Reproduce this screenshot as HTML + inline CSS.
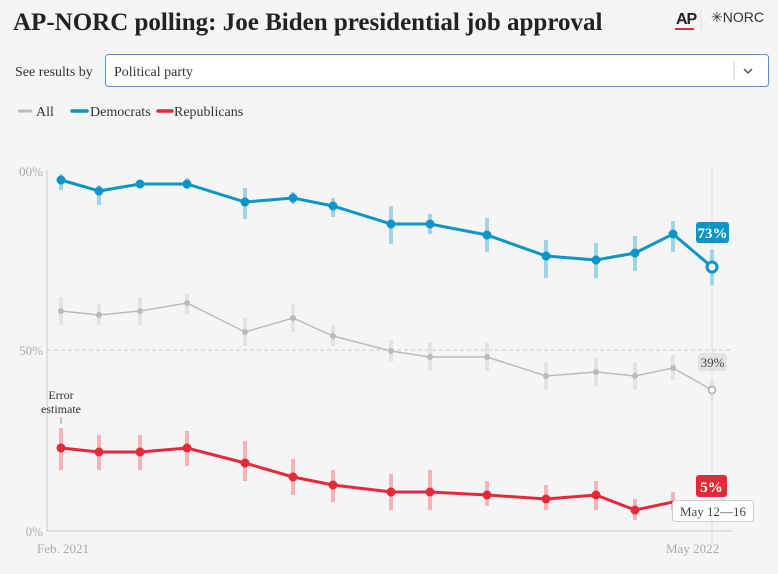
<!DOCTYPE html>
<html><head><meta charset="utf-8"><style>
body{margin:0;width:778px;height:569px;background:#f5f5f5;overflow:hidden;font-family:"Liberation Serif",serif;}
</style></head><body>
<svg width="778" height="569" viewBox="0 0 778 569" xmlns="http://www.w3.org/2000/svg" font-family="Liberation Serif, serif">
<rect width="778" height="569" fill="#f5f5f5"/>
<text x="13" y="30" font-size="25" font-weight="bold" fill="#222">AP-NORC polling: Joe Biden presidential job approval</text>
<text x="676" y="24" font-size="16" font-weight="bold" fill="#222" font-family="Liberation Sans, sans-serif" letter-spacing="-1">AP</text>
<rect x="675" y="28" width="19" height="2" fill="#e4293a"/>
<line x1="701" y1="10" x2="701" y2="30" stroke="#ddd"/>
<text x="711" y="22" font-size="14" fill="#333" font-family="Liberation Sans, sans-serif">✳NORC</text>
<text x="15" y="76" font-size="14" fill="#333">See results by</text>
<rect x="105.5" y="54.5" width="663" height="32" rx="3" fill="#fff" stroke="#5a8fd8"/>
<text x="114" y="76" font-size="14" fill="#333">Political party</text>
<line x1="734" y1="61" x2="734" y2="80" stroke="#ccc"/>
<polyline points="744,69 748,73 752,69" fill="none" stroke="#555" stroke-width="1.5"/>
<line x1="18" y1="111" x2="32" y2="111" stroke="#bbb" stroke-width="3"/>
<text x="36" y="116" font-size="14" fill="#333">All</text>
<line x1="72" y1="111" x2="87" y2="111" stroke="#0b95c8" stroke-width="3.5" stroke-linecap="round"/>
<text x="90" y="116" font-size="14" fill="#333">Democrats</text>
<line x1="158" y1="111" x2="172" y2="111" stroke="#e4293a" stroke-width="3.5" stroke-linecap="round"/>
<text x="174" y="116" font-size="14" fill="#333">Republicans</text>
<!-- axes -->
<line x1="47" y1="170" x2="47" y2="531" stroke="#ccc"/>
<line x1="47" y1="531" x2="732" y2="531" stroke="#ccc"/>
<line x1="47" y1="350" x2="732" y2="350" stroke="#ccc" stroke-dasharray="4,3"/>
<line x1="712" y1="170" x2="712" y2="545" stroke="#ddd"/>
<text x="43" y="176" font-size="13" fill="#aaa" text-anchor="end">00%</text>
<text x="43" y="355" font-size="13" fill="#aaa" text-anchor="end">50%</text>
<text x="43" y="536" font-size="13" fill="#aaa" text-anchor="end">0%</text>
<text x="37" y="553" font-size="13" fill="#aaa">Feb. 2021</text>
<text x="666" y="553" font-size="13" fill="#aaa">May 2022</text>
<text x="61" y="399" font-size="12" fill="#333" text-anchor="middle">Error</text>
<text x="61" y="413" font-size="12" fill="#333" text-anchor="middle">estimate</text>
<line x1="61" y1="417" x2="61" y2="424" stroke="#999"/>
<g id="eb" stroke-width="4">
<g stroke="#9fd3e6">
<line x1="61" y1="174" x2="61" y2="190"/><line x1="99" y1="185" x2="99" y2="205"/><line x1="140" y1="180" x2="140" y2="188"/><line x1="187" y1="178" x2="187" y2="189"/><line x1="245" y1="188" x2="245" y2="219"/><line x1="293" y1="192" x2="293" y2="204"/><line x1="333" y1="198" x2="333" y2="217"/><line x1="391" y1="206" x2="391" y2="244"/><line x1="430" y1="214" x2="430" y2="234"/><line x1="487" y1="218" x2="487" y2="252"/><line x1="546" y1="240" x2="546" y2="278"/><line x1="596" y1="243" x2="596" y2="278"/><line x1="635" y1="236" x2="635" y2="271"/><line x1="673" y1="221" x2="673" y2="252"/><line x1="712" y1="250" x2="712" y2="285"/>
</g>
<g stroke="#e3e3e3">
<line x1="61" y1="297" x2="61" y2="325"/><line x1="99" y1="304" x2="99" y2="325"/><line x1="140" y1="297" x2="140" y2="325"/><line x1="187" y1="294" x2="187" y2="314"/><line x1="245" y1="318" x2="245" y2="346"/><line x1="293" y1="304" x2="293" y2="332"/><line x1="333" y1="325" x2="333" y2="346"/><line x1="391" y1="340" x2="391" y2="362"/><line x1="430" y1="343" x2="430" y2="371"/><line x1="487" y1="343" x2="487" y2="371"/><line x1="546" y1="362" x2="546" y2="390"/><line x1="596" y1="358" x2="596" y2="386"/><line x1="635" y1="362" x2="635" y2="390"/><line x1="673" y1="355" x2="673" y2="380"/><line x1="712" y1="380" x2="712" y2="400"/>
</g>
<g stroke="#f4b3b9">
<line x1="61" y1="428" x2="61" y2="470"/><line x1="99" y1="435" x2="99" y2="470"/><line x1="140" y1="435" x2="140" y2="470"/><line x1="187" y1="431" x2="187" y2="466"/><line x1="245" y1="441" x2="245" y2="481"/><line x1="293" y1="459" x2="293" y2="495"/><line x1="333" y1="470" x2="333" y2="502"/><line x1="391" y1="474" x2="391" y2="510"/><line x1="430" y1="470" x2="430" y2="510"/><line x1="487" y1="481" x2="487" y2="506"/><line x1="546" y1="485" x2="546" y2="510"/><line x1="596" y1="481" x2="596" y2="510"/><line x1="635" y1="499" x2="635" y2="520"/><line x1="673" y1="492" x2="673" y2="510"/>
</g>
</g>
<polyline fill="none" stroke="#bbb" stroke-width="1.5" points="61,311 99,315 140,311 187,303 245,332 293,318 333,336 391,351 430,357 487,357 546,376 596,372 635,376 673,368 712,390"/>
<g fill="#bbb"><circle cx="61" cy="311" r="3"/><circle cx="99" cy="315" r="3"/><circle cx="140" cy="311" r="3"/><circle cx="187" cy="303" r="3"/><circle cx="245" cy="332" r="3"/><circle cx="293" cy="318" r="3"/><circle cx="333" cy="336" r="3"/><circle cx="391" cy="351" r="3"/><circle cx="430" cy="357" r="3"/><circle cx="487" cy="357" r="3"/><circle cx="546" cy="376" r="3"/><circle cx="596" cy="372" r="3"/><circle cx="635" cy="376" r="3"/><circle cx="673" cy="368" r="3"/></g>
<circle cx="712" cy="390" r="3.5" fill="#fff" stroke="#aaa" stroke-width="1.5"/>
<polyline fill="none" stroke="#0b95c8" stroke-width="3" points="61,180 99,191 140,184 187,184 245,202 293,198 333,206 391,224 430,224 487,235 546,256 596,260 635,253 673,234 712,267"/>
<g fill="#0b95c8"><circle cx="61" cy="180" r="4.5"/><circle cx="99" cy="191" r="4.5"/><circle cx="140" cy="184" r="4.5"/><circle cx="187" cy="184" r="4.5"/><circle cx="245" cy="202" r="4.5"/><circle cx="293" cy="198" r="4.5"/><circle cx="333" cy="206" r="4.5"/><circle cx="391" cy="224" r="4.5"/><circle cx="430" cy="224" r="4.5"/><circle cx="487" cy="235" r="4.5"/><circle cx="546" cy="256" r="4.5"/><circle cx="596" cy="260" r="4.5"/><circle cx="635" cy="253" r="4.5"/><circle cx="673" cy="234" r="4.5"/></g>
<circle cx="712" cy="267" r="5" fill="#fff" stroke="#0b95c8" stroke-width="3"/>
<polyline fill="none" stroke="#e4293a" stroke-width="3" points="61,448 99,452 140,452 187,448 245,463 293,477 333,485 391,492 430,492 487,495 546,499 596,495 635,510 673,502 712,513"/>
<g fill="#e4293a"><circle cx="61" cy="448" r="4.5"/><circle cx="99" cy="452" r="4.5"/><circle cx="140" cy="452" r="4.5"/><circle cx="187" cy="448" r="4.5"/><circle cx="245" cy="463" r="4.5"/><circle cx="293" cy="477" r="4.5"/><circle cx="333" cy="485" r="4.5"/><circle cx="391" cy="492" r="4.5"/><circle cx="430" cy="492" r="4.5"/><circle cx="487" cy="495" r="4.5"/><circle cx="546" cy="499" r="4.5"/><circle cx="596" cy="495" r="4.5"/><circle cx="635" cy="510" r="4.5"/></g>
<rect x="696" y="222" width="33" height="21" rx="3" fill="#0b95c8"/>
<text x="712.5" y="238" font-size="15" fill="#fff" text-anchor="middle" font-weight="bold">73%</text>
<rect x="698" y="353" width="29" height="18" rx="3" fill="#e3e3e3"/>
<text x="712.5" y="367" font-size="13" fill="#444" text-anchor="middle">39%</text>
<rect x="696" y="475" width="31" height="22" rx="3" fill="#e4293a"/>
<text x="711.5" y="492" font-size="15" fill="#fff" text-anchor="middle" font-weight="bold">5%</text>
<rect x="672.5" y="500.5" width="81" height="21" rx="3" fill="#fff" stroke="#ccc"/>
<text x="713" y="516" font-size="13" fill="#444" text-anchor="middle">May 12—16</text>
</svg>
</body></html>
